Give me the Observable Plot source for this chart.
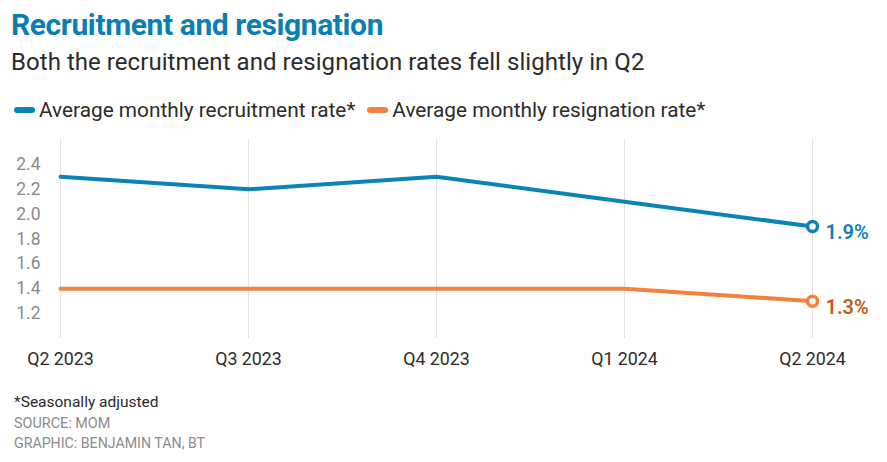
<!DOCTYPE html>
<html>
<head>
<meta charset="utf-8">
<script src="https://cdn.jsdelivr.net/npm/d3@7"></script>
<script src="https://cdn.jsdelivr.net/npm/@observablehq/plot@0.6"></script>
<style>
  body { margin: 0; background: #fff; font-family: Roboto, "Noto Sans", sans-serif; }
  #wrap { width: 887px; position: relative; }
  .title { position: absolute; left: 11px; top: 7px; font-family: "Roboto", sans-serif; font-weight: 700; font-size: 30px; color: #0b7fb2; letter-spacing: -0.4px; white-space: nowrap; }
  .subtitle { position: absolute; left: 11px; top: 48px; font-family: "Roboto", sans-serif; font-size: 24px; color: #2b2b2b; white-space: nowrap; letter-spacing: 0.05px; }
  .legend { position: absolute; left: 14px; top: 98px; font-family: "Roboto", sans-serif; font-size: 20.8px; color: #2b2b2b; white-space: nowrap; display: flex; align-items: center; }
  .sw { display: inline-block; width: 21px; height: 6px; border-radius: 3px; margin-right: 4px; }
  .li { display: flex; align-items: center; margin-right: 12px; }
  #chart { position: absolute; left: 0; top: 130px; }
  .foot { position: absolute; left: 14px; font-size: 15.5px; white-space: nowrap; }
</style>
</head>
<body>
<div id="wrap" style="height:462px">
  <div class="title">Recruitment and resignation</div>
  <div class="subtitle">Both the recruitment and resignation rates fell slightly in Q2</div>
  <div class="legend">
    <span class="li"><span class="sw" style="background:#0b84b5"></span>Average monthly recruitment rate*</span>
    <span class="li"><span class="sw" style="background:#f5813f"></span>Average monthly resignation rate*</span>
  </div>
  <div id="chart"></div>
  <div class="foot" style="top:393px;color:#2b2b2b">*Seasonally adjusted</div>
  <div class="foot" style="top:415px;color:#8c8c8c;font-size:14.4px">SOURCE: MOM</div>
  <div class="foot" style="top:435px;color:#8c8c8c;font-size:14.2px">GRAPHIC: BENJAMIN TAN, BT</div>
</div>
<script>
const quarters = ["Q2 2023", "Q3 2023", "Q4 2023", "Q1 2024", "Q2 2024"];
const recruitment = [2.3, 2.2, 2.3, 2.1, 1.9];
const resignation = [1.4, 1.4, 1.4, 1.4, 1.3];
const yTicks = [1.2, 1.4, 1.6, 1.8, 2.0, 2.2, 2.4];
const seriesNames = ["Recruitment", "Resignation"];
const lineColors = ["#0b84b5", "#f5813f"];
const labelColors = ["#0b84b5", "#c9581d"];

const data = [
  ...quarters.map((q, i) => ({q, v: recruitment[i], s: seriesNames[0]})),
  ...quarters.map((q, i) => ({q, v: resignation[i], s: seriesNames[1]}))
];
const last = data.filter(d => d.q === quarters[quarters.length - 1]);

const chart = Plot.plot({
  width: 887,
  height: 250,
  marginLeft: 59,
  marginRight: 75,
  marginTop: 9,
  marginBottom: 42,
  style: {fontFamily: "Roboto, 'Noto Sans', sans-serif", fontSize: "17px", background: "#fff"},
  x: {type: "point", domain: quarters, padding: 0, label: null},
  y: {domain: [1.0, 2.6], label: null},
  color: {domain: seriesNames, range: lineColors},
  marks: [
    Plot.gridX(quarters, {stroke: "#e3e3e3", strokeOpacity: 1, strokeWidth: 1}),
    Plot.axisY({ticks: yTicks, tickSize: 0, tickPadding: 0, dx: -19, tickFormat: d3.format(".1f"), fill: "#8a8a8a", fontSize: 17.5, label: null}),
    Plot.axisX({tickSize: 0, tickPadding: 14, fill: "#2b2b2b", fontSize: 17.8, label: null}),
    Plot.line(data, {x: "q", y: "v", z: "s", stroke: "s", strokeWidth: 4, curve: "linear"}),
    Plot.dot(last, {x: "q", y: "v", stroke: "s", fill: "white", r: 5, strokeWidth: 3.5}),
    Plot.text(last, {x: "q", y: "v", text: d => d.v.toFixed(1) + "%", dx: 13, dy: 6, textAnchor: "start", fontSize: 20, fontWeight: 600,
      fill: d => labelColors[seriesNames.indexOf(d.s)]})
  ]
});
document.getElementById("chart").appendChild(chart);
</script>
</body>
</html>
